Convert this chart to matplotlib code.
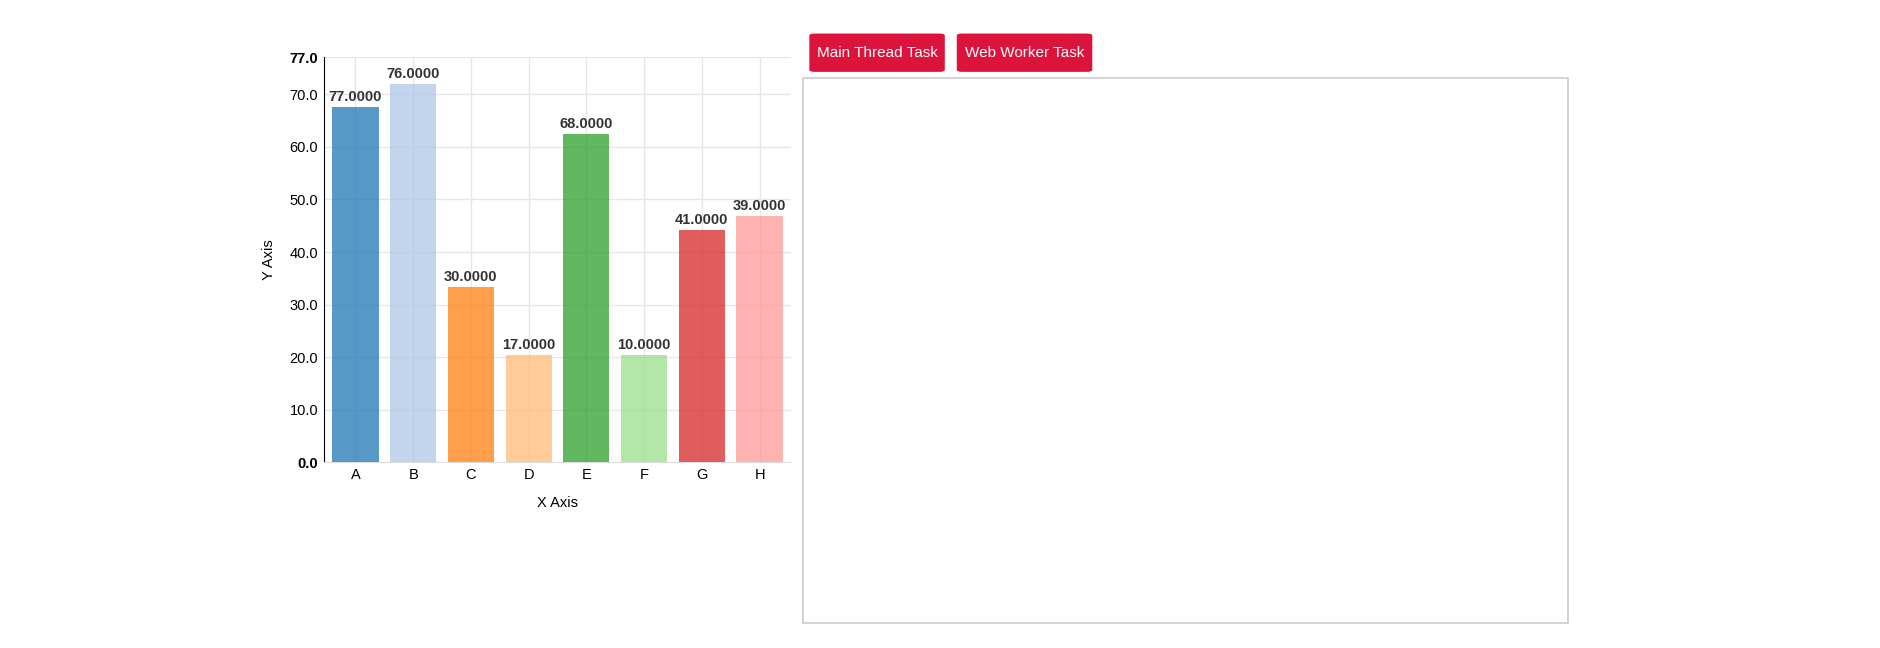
import matplotlib.pyplot as plt
from matplotlib.patches import FancyBboxPatch, Rectangle

plt.rcParams['font.family'] = ['Liberation Sans', 'DejaVu Sans']

categories = ["A", "B", "C", "D", "E", "F", "G", "H"]
bar_heights = [67.5, 71.9, 33.4, 20.4, 62.5, 20.4, 44.2, 46.9]
bar_labels = ["77.0000", "76.0000", "30.0000", "17.0000", "68.0000", "10.0000", "41.0000", "39.0000"]
colors = ["#1f77b4", "#aec7e8", "#ff7f0e", "#ffbb78", "#2ca02c", "#98df8a", "#d62728", "#ff9896"]
y_ticks = [0, 10, 20, 30, 40, 50, 60, 70, 77]

W, H = 1568, 541
fig = plt.figure(figsize=(18.8, 6.48), dpi=100)


def fx(px):
    return px / W


def fy(py):
    return 1 - py / H


ax = fig.add_axes([fx(270), fy(386), fx(660) - fx(270), fy(48) - fy(386)])
x = list(range(len(categories)))
ax.bar(x, bar_heights, width=0.8, color=colors, alpha=0.75, zorder=3)
for xi, h, lab in zip(x, bar_heights, bar_labels):
    ax.text(xi, h + 0.6, lab, ha="center", va="bottom", fontsize=10.5,
            fontweight="bold", color="#333333", zorder=4)

ax.set_xlim(-0.55, 7.55)
ax.set_ylim(0, 77)
ax.set_xticks(x)
ax.set_xticklabels(categories, fontsize=10.5)
ax.set_yticks(y_ticks)
ax.set_yticklabels([f"{v:.1f}" for v in y_ticks], fontsize=10.5)
for i in (0, len(y_ticks) - 1):
    ax.get_yticklabels()[i].set_fontweight("bold")
ax.grid(True, color="#e6e6e6", linewidth=1, zorder=0)
ax.tick_params(length=0, pad=4)
for s in ("top", "right"):
    ax.spines[s].set_visible(False)
ax.spines["bottom"].set_color("#dddddd")
ax.spines["left"].set_color("#000000")
ax.set_xlabel("X Axis", fontsize=10.5, labelpad=10)
ax.set_ylabel("Y Axis", fontsize=10.5, labelpad=10)

# right panel box
fig.patches.append(Rectangle((fx(670), fy(520)), fx(1308) - fx(670), fy(65) - fy(520),
                             transform=fig.transFigure, facecolor="white",
                             edgecolor="#cccccc", linewidth=1.2))

# buttons
for x0, x1, txt in [(675, 788, "Main Thread Task"), (798, 911, "Web Worker Task")]:
    fig.patches.append(FancyBboxPatch((fx(x0), fy(60)), fx(x1) - fx(x0), fy(28) - fy(60),
                                      boxstyle="round,pad=0,rounding_size=0.003",
                                      transform=fig.transFigure, facecolor="#dc143c",
                                      edgecolor="none"))
    fig.text(fx((x0 + x1) / 2), fy(44), txt, ha="center", va="center",
             color="white", fontsize=11)

fig.savefig("out.png", dpi=100)
